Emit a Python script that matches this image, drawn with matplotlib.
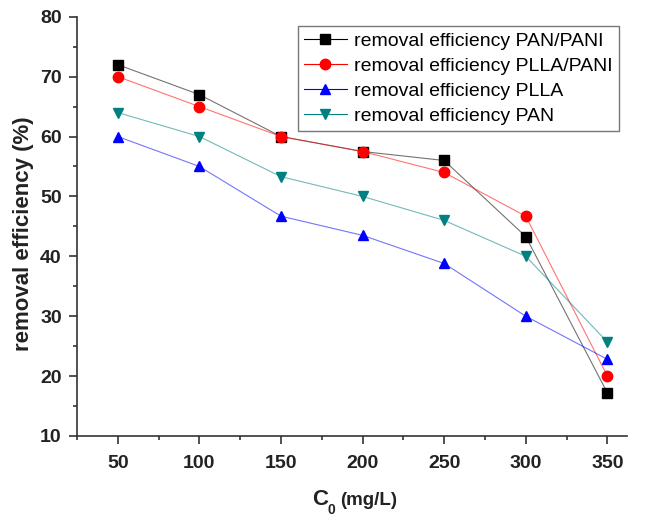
import matplotlib
matplotlib.use('Agg')
import matplotlib.pyplot as plt
from matplotlib.ticker import MultipleLocator
from matplotlib.lines import Line2D

plt.rcParams['font.family'] = ['Liberation Sans', 'DejaVu Sans']

# concentration C0 (mg/L)
conc = [50, 100, 150, 200, 250, 300, 350]

# removal efficiency (%)
pan_pani = [72, 67, 60, 57.5, 56, 43.3, 17.2]
plla_pani = [70, 65, 60, 57.5, 54, 46.7, 20]
plla = [60, 55, 46.7, 43.5, 38.8, 30, 22.8]
pan = [64, 60, 53.3, 50, 46, 40, 25.7]

labels = ['removal efficiency PAN/PANI', 'removal efficiency PLLA/PANI',
          'removal efficiency PLLA', 'removal efficiency PAN']

fig = plt.figure(figsize=(6.47, 5.24), dpi=100)
ax = fig.add_axes([0.119, 0.168, 0.85, 0.8])

series = [pan_pani, plla_pani, plla, pan]
colors = ['black', 'red', 'blue', '#008080']
markers = ['s', 'o', '^', 'v']
handles = []
for ys, c, m in zip(series, colors, markers):
    ax.plot(conc, ys, color=c, lw=0.8, alpha=0.55)
    ax.plot(conc, ys, ls='none', marker=m, markersize=7.5, color=c)
    handles.append(Line2D([], [], color=c, lw=0.8, marker=m, markersize=7.5,
                          markerfacecolor=c, markeredgecolor=c))

ax.set_xlim(25, 362)
ax.set_ylim(10, 80)
ax.xaxis.set_major_locator(MultipleLocator(50))
ax.xaxis.set_minor_locator(MultipleLocator(25))
ax.yaxis.set_major_locator(MultipleLocator(10))
ax.yaxis.set_minor_locator(MultipleLocator(5))

ax.spines['top'].set_visible(False)
ax.spines['right'].set_visible(False)
for s in ['left', 'bottom']:
    ax.spines[s].set_linewidth(1.2)
    ax.spines[s].set_color('#333333')

ax.tick_params(which='major', direction='out', length=6, width=1.2, labelsize=14,
               pad=5, colors='#333333', labelcolor='#222222')
ax.tick_params(axis='x', which='major', pad=8)
ax.tick_params(which='minor', direction='out', length=3, width=1.2, colors='#333333')
for t in ax.get_xticklabels() + ax.get_yticklabels():
    t.set_fontweight('bold')

ax.set_ylabel('removal efficiency (%)', fontsize=16, fontweight='bold', color='#222222')
ax.yaxis.set_label_coords(-0.078, 0.482)

# x label: large C with subscript 0, smaller unit
ax.annotate('C', xy=(0.5, 0), xycoords='axes fraction', xytext=(-29, -50),
            textcoords='offset points', fontsize=16, fontweight='bold', color='#222222',
            ha='left', va='baseline', annotation_clip=False)
ax.annotate('0', xy=(0.5, 0), xycoords='axes fraction', xytext=(-17.5, -56),
            textcoords='offset points', fontsize=10, fontweight='bold', color='#222222',
            ha='left', va='baseline', annotation_clip=False)
ax.annotate('(mg/L)', xy=(0.5, 0), xycoords='axes fraction', xytext=(-8.5, -50),
            textcoords='offset points', fontsize=13.5, fontweight='bold', color='#222222',
            ha='left', va='baseline', annotation_clip=False)

leg = ax.legend(handles, labels, loc='upper right', fontsize=14, frameon=True, fancybox=False,
                handlelength=2.2, borderpad=0.3, labelspacing=0.38, handletextpad=0.4,
                bbox_to_anchor=(1.003, 1.0))
leg.get_frame().set_edgecolor('#555555')
leg.get_frame().set_linewidth(1.0)

fig.savefig('out.png', dpi=100)
